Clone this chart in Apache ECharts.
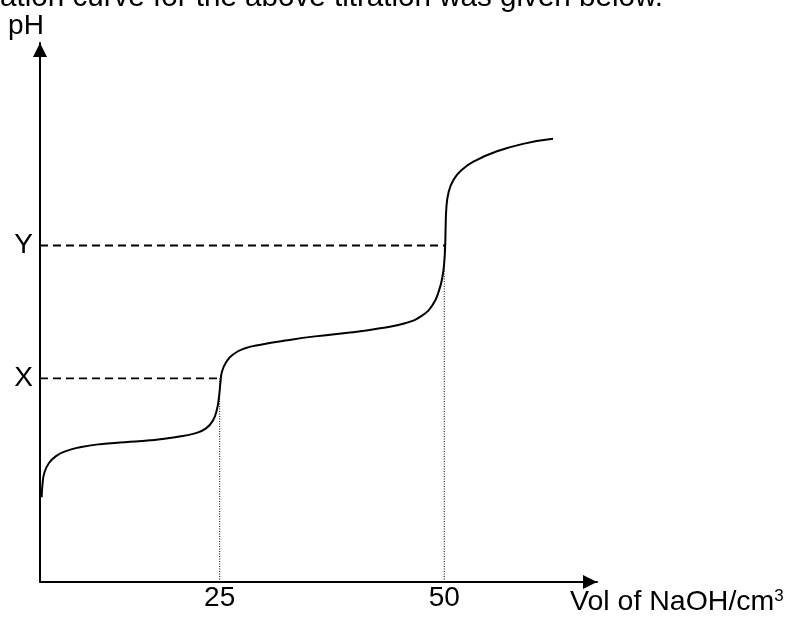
<!DOCTYPE html>
<html>
<head>
<meta charset="utf-8">
<script src="https://cdn.jsdelivr.net/npm/echarts@6/dist/echarts.min.js"></script>
<style>
  html, body { margin: 0; padding: 0; background: #fff; }
  #main { width: 794px; height: 617px; }
</style>
</head>
<body>
<div id="main"></div>
<script>
// titration curve (vol in cm3, pH)
var volData = [5.19, 5.28, 5.50, 6.00, 6.78, 7.89, 9.45, 11.68, 14.46, 17.24, 20.03, 22.25, 23.48, 24.26, 24.70, 24.93, 25.09, 25.26, 25.70, 26.48, 27.82, 29.71, 32.27, 35.61, 39.51, 42.85, 45.63, 47.52, 48.74, 49.41, 49.80, 50.02, 50.10, 50.15, 50.22, 50.47, 51.03, 51.97, 53.42, 55.65, 58.76, 62.10];
var phData = [2.20, 2.54, 2.85, 3.09, 3.27, 3.40, 3.50, 3.58, 3.63, 3.68, 3.76, 3.86, 3.99, 4.20, 4.49, 4.82, 5.19, 5.47, 5.70, 5.91, 6.07, 6.17, 6.27, 6.38, 6.48, 6.59, 6.72, 6.92, 7.21, 7.57, 7.93, 8.37, 8.74, 9.20, 9.67, 10.11, 10.45, 10.71, 10.94, 11.17, 11.38, 11.51];

// equivalence points and the marked pH levels
var eqVols = [25, 50];
var levelNames = ['X', 'Y'];
var levelValues = [5.29, 8.74];
var levelEnds = [25.1, 50.1];

var topText = 'ation curve for the above titration was given below.';

var curve = [];
for (var i = 0; i < volData.length; i++) {
    curve.push([volData[i], phData[i]]);
}

var font = '"Liberation Sans", Arial, sans-serif';

var series = [{
    type: 'line',
    data: curve,
    smooth: 0.5,
    showSymbol: false,
    lineStyle: { color: '#000', width: 2 },
    z: 5
}];

for (var j = 0; j < eqVols.length; j++) {
    // dashed horizontal from the pH axis to the curve
    series.push({
        type: 'line',
        data: [[5, levelValues[j]], [levelEnds[j], levelValues[j]]],
        showSymbol: false,
        lineStyle: { color: '#000', width: 1.8, type: [8, 5] }
    });
    // dotted vertical from the volume axis up to the level
    series.push({
        type: 'line',
        data: [[eqVols[j], 0], [eqVols[j], levelValues[j]]],
        showSymbol: false,
        lineStyle: { color: '#000', width: 1, type: [1, 1.5] }
    });
}

var myChart = echarts.init(document.getElementById('main'));
myChart.setOption({
    animation: false,
    backgroundColor: '#fff',
    grid: { left: 40, right: 197, top: 43, bottom: 34 },
    xAxis: {
        type: 'value',
        min: 5,
        max: 67,
        name: 'Vol of NaOH/cm{sup|3}',
        nameLocation: 'end',
        nameGap: -27,
        nameTextStyle: {
            color: '#000', fontFamily: font, fontSize: 28.5,
            align: 'left', verticalAlign: 'top', padding: [6, 0, 0, 0],
            rich: { sup: { fontSize: 17, verticalAlign: 'top', padding: [0, 0, 12, 0], color: '#000', fontFamily: font } }
        },
        axisLine: { lineStyle: { color: '#000', width: 2 }, symbol: ['none', 'triangle'], symbolSize: [14, 14], symbolOffset: [0, -7] },
        axisTick: { show: false },
        splitLine: { show: false },
        axisLabel: {
            customValues: eqVols,
            color: '#000', fontFamily: font, fontSize: 28, margin: 2
        }
    },
    yAxis: {
        type: 'value',
        min: 0,
        max: 14,
        name: 'pH',
        nameLocation: 'end',
        nameGap: 3,
        nameTextStyle: { color: '#000', fontFamily: font, fontSize: 28, align: 'center', verticalAlign: 'bottom', padding: [0, 28, 0, 0] },
        axisLine: { lineStyle: { color: '#000', width: 2 }, symbol: ['none', 'triangle'], symbolSize: [14, 14], symbolOffset: [0, -7] },
        axisTick: { show: false },
        splitLine: { show: false },
        axisLabel: {
            customValues: levelValues,
            formatter: function (v) {
                var k = levelValues.indexOf(v);
                return k >= 0 ? levelNames[k] : '';
            },
            color: '#000', fontFamily: font, fontSize: 28, margin: 7
        }
    },
    graphic: [{
        type: 'text',
        left: 0,
        top: -17,
        style: { text: topText, fill: '#000', font: '29.6px ' + font }
    }],
    series: series
});
</script>
</body>
</html>
